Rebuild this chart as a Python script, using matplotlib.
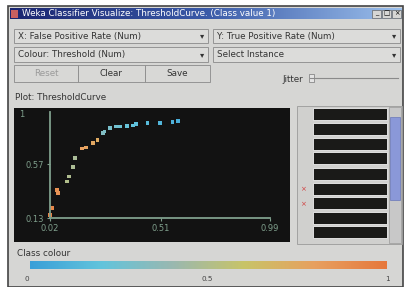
import numpy as np
import matplotlib
matplotlib.use("Agg")
import matplotlib.pyplot as plt
from matplotlib.patches import Rectangle
from matplotlib.colors import LinearSegmentedColormap

# ---- data ----
fpr = [0.02, 0.029, 0.05, 0.055, 0.095, 0.104, 0.12, 0.13, 0.16, 0.18, 0.21, 0.23,
       0.255, 0.26, 0.285, 0.31, 0.33, 0.36, 0.385, 0.40, 0.45, 0.505, 0.56, 0.585]
tpr = [0.155, 0.21, 0.36, 0.335, 0.43, 0.47, 0.55, 0.62, 0.70, 0.71, 0.745, 0.77,
       0.83, 0.84, 0.87, 0.88, 0.88, 0.885, 0.89, 0.90, 0.91, 0.91, 0.92, 0.925]
threshold = [0.95, 0.92, 0.88, 0.86, 0.5, 0.49, 0.48, 0.47, 0.8, 0.78, 0.76, 0.74,
             0.32, 0.3, 0.28, 0.26, 0.24, 0.22, 0.2, 0.18, 0.15, 0.12, 0.1, 0.08]
x_ticks = [0.02, 0.51, 0.99]
x_tick_labels = ["0.02", "0.51", "0.99"]
y_ticks = [0.13, 0.57]
y_tick_labels = ["0.13", "0.57"]
y_max_label = "1"
colour_labels = ["0", "0.5", "1"]

cmap = LinearSegmentedColormap.from_list(
    "weka", ["#3a9fd8", "#62c4dc", "#9ab8b0", "#c8c468", "#e8a060", "#e6783c"])

FS = 6.3
W, H = 404, 287
fig = plt.figure(figsize=(W / 100, H / 100), dpi=100)
fig.patch.set_facecolor("#ffffff")

bg = fig.add_axes([0, 0, 1, 1])
bg.axis("off")

def px_axes(x0, y0, x1, y1):
    return fig.add_axes([x0 / W, 1 - y1 / H, (x1 - x0) / W, (y1 - y0) / H])

# window body
bg.add_patch(Rectangle((8, 6), 395, 281, facecolor="#d6d6d4", edgecolor="#444444", lw=1.2))
# title bar gradient
grad = np.linspace(0, 1, 256)[None, :]
tcmap = LinearSegmentedColormap.from_list("tb", ["#1a2570", "#3a5aa8", "#9cc0ec"])
bg.imshow(grad, cmap=tcmap, extent=(10, 402, 19, 8), aspect="auto", zorder=1)
bg.set_xlim(0, W)
bg.set_ylim(H, 0)
bg.text(22, 13.5, "Weka Classifier Visualize: ThresholdCurve. (Class value 1)",
        color="white", fontsize=FS, va="center", ha="left", zorder=3)
bg.add_patch(Rectangle((11, 9.5), 7, 8, facecolor="#c86060", edgecolor="none", zorder=3))
for i, s in enumerate(["_", "□", "×"]):
    bg.add_patch(Rectangle((372 + i * 10, 9.5), 9, 8, facecolor="#d6d6d4",
                           edgecolor="#666666", lw=0.5, zorder=3))
    bg.text(376.5 + i * 10, 13.5, s, fontsize=4.8, ha="center", va="center", zorder=4)

def combo(x0, y0, x1, y1, label):
    bg.add_patch(Rectangle((x0, y0), x1 - x0, y1 - y0, facecolor="#dcdcda",
                           edgecolor="#8a8a8a", lw=0.6))
    bg.text(x0 + 4, (y0 + y1) / 2, label, fontsize=FS, va="center", color="#333333")
    bg.text(x1 - 6, (y0 + y1) / 2, "▾", fontsize=6, va="center", ha="center", color="#333333")

combo(14, 29, 208, 43, "X: False Positive Rate (Num)")
combo(213, 29, 400, 43, "Y: True Positive Rate (Num)")
combo(14, 47, 208, 62, "Colour: Threshold (Num)")
combo(213, 47, 400, 62, "Select Instance")

for (x0, x1, lab, c) in [(14, 78, "Reset", "#9a9a9a"), (78, 145, "Clear", "#333333"),
                          (145, 210, "Save", "#333333")]:
    bg.add_patch(Rectangle((x0, 65), x1 - x0, 17, facecolor="#d8d8d6",
                           edgecolor="#8a8a8a", lw=0.6))
    bg.text((x0 + x1) / 2, 73.5, lab, fontsize=FS, ha="center", va="center", color=c)
bg.text(293, 79, "Jitter", fontsize=FS, ha="center", va="center", color="#333333")
bg.plot([310, 398], [78, 78], color="#8a8a8a", lw=0.8)
bg.add_patch(Rectangle((309, 74), 5, 8, facecolor="#e4e4e4", edgecolor="#777777", lw=0.5))
bg.text(15, 97.5, "Plot: ThresholdCurve", fontsize=FS, va="center", color="#333333")

# right attribute panel
bg.add_patch(Rectangle((297, 106), 105, 138, facecolor="#d0d0ce", edgecolor="#9a9a9a", lw=0.6))
row_tops = [108, 123, 138, 152, 168, 183, 197, 212, 226]
for t in row_tops:
    bg.add_patch(Rectangle((313, t), 74, 12, facecolor="#1a1a18", edgecolor="#f0f0f0", lw=0.6))
bg.add_patch(Rectangle((389, 107), 12, 136, facecolor="#c8c8c8", edgecolor="#999999", lw=0.5))
bg.add_patch(Rectangle((390, 117), 10, 83, facecolor="#8a98d8", edgecolor="#6a78b8", lw=0.5))
bg.text(303, 189, "×", fontsize=5, color="#d04040", ha="center", va="center")
bg.text(303, 204, "×", fontsize=5, color="#d04040", ha="center", va="center")

# class colour bar
bg.text(17, 254, "Class colour", fontsize=FS, va="center", color="#333333")
cax = px_axes(30, 261, 387, 269)
cax.imshow(np.linspace(0, 1, 256)[None, :], cmap=cmap, aspect="auto")
cax.axis("off")
for frac, lab in zip([0.0, 0.5, 1.0], colour_labels):
    bg.text(27 + frac * 360, 279, lab, fontsize=5.2, ha="center", va="center", color="#444444")

# main plot
ax = px_axes(14, 108, 290, 242)
ax.set_facecolor("#121212")
ax.set_xlim(-0.1387, 1.078)
ax.set_ylim(-0.067, 1.033)
ax.scatter(fpr, tpr, c=threshold, cmap=cmap, vmin=0, vmax=1, marker="s", s=7,
           linewidths=0)
axis_col = "#7f9f8c"
for side in ["top", "right"]:
    ax.spines[side].set_visible(False)
ax.spines["left"].set_position(("data", 0.02))
ax.spines["left"].set_bounds(0.13, 1.0)
ax.spines["bottom"].set_position(("data", 0.13))
ax.spines["bottom"].set_bounds(0.02, 0.99)
for side in ["left", "bottom"]:
    ax.spines[side].set_color(axis_col)
    ax.spines[side].set_linewidth(1.3)
ax.set_xticks(x_ticks)
ax.set_xticklabels(x_tick_labels)
ax.set_yticks(y_ticks)
ax.set_yticklabels(y_tick_labels)
ax.tick_params(colors=axis_col, labelsize=6, length=2, width=0.8, pad=2)
ax.text(-0.115, 0.98, y_max_label, color=axis_col, fontsize=6, va="center")

fig.savefig("out.png", dpi=100, facecolor=fig.get_facecolor())
